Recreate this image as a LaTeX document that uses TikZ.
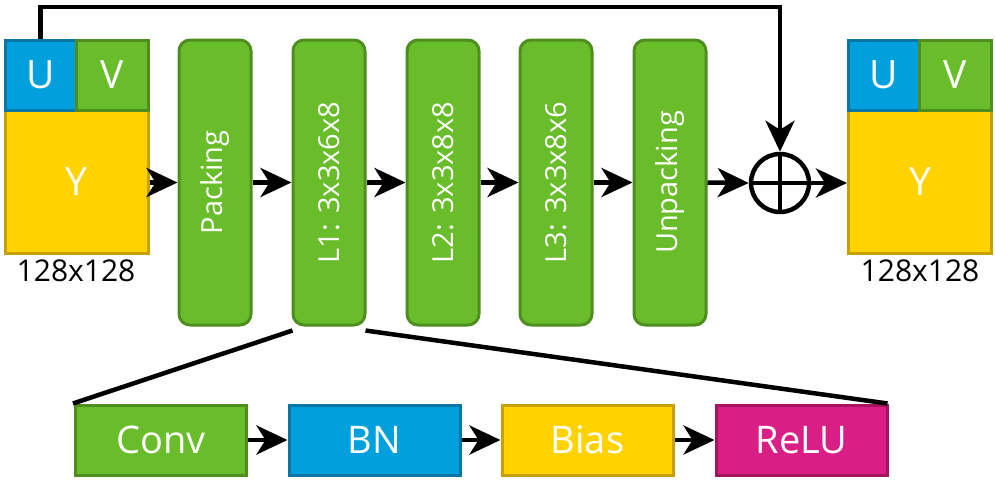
\documentclass[tikz,border=0pt]{standalone}
\usepackage{fontspec}
\setmainfont{Open Sans}
\usetikzlibrary{arrows.meta}
\definecolor{cblue}{HTML}{00A0DC}
\definecolor{cblueb}{HTML}{0A76A6}
\definecolor{cgreen}{HTML}{6ABD2A}
\definecolor{cgreenb}{HTML}{4D8E1F}
\definecolor{cyel}{HTML}{FFD200}
\definecolor{cyelb}{HTML}{C6A000}
\definecolor{cmag}{HTML}{D91F85}
\definecolor{cmagb}{HTML}{A3155F}
\tikzset{
  sq/.style={draw, line width=3pt, inner sep=0pt, text=white, font=\fontsize{39}{42}\selectfont},
  ublk/.style={sq, fill=cblue, draw=cblueb, minimum width=71pt, minimum height=70pt},
  vblk/.style={sq, fill=cgreen, draw=cgreenb, minimum width=72pt, minimum height=70pt},
  yblk/.style={sq, fill=cyel, draw=cyelb, minimum width=143pt, minimum height=143pt},
  tall/.style={draw=cgreenb, fill=cgreen, line width=3pt, rounded corners=11pt, minimum width=72pt, minimum height=285pt, inner sep=0pt},
  vlab/.style={rotate=90, text=white, font=\fontsize{29}{32}\selectfont},
  bot/.style={sq, minimum width=171pt, minimum height=70pt, font=\fontsize{38}{42}\selectfont},
  arr/.style={line width=4.5pt, -{Stealth[length=31pt,width=29pt,inset=9pt]}},
  ln/.style={line width=4.5pt},
  size/.style={font=\fontsize{30}{34}\selectfont, text=black}
}
\begin{document}
\begin{tikzpicture}[x=1pt,y=-1pt]
\useasboundingbox (0,0) rectangle (995,482);
% tall boxes
\node[tall] (pk) at (215,182.5) {};
\node[tall] (l1) at (329,182.5) {};
\node[tall] (l2) at (443,182.5) {};
\node[tall] (l3) at (556,182.5) {};
\node[tall] (up) at (670,182.5) {};
\node[vlab] at (pk.center) {Packing};
\node[vlab] at (l1.center) {L1: 3x3x6x8};
\node[vlab] at (l2.center) {L2: 3x3x8x8};
\node[vlab] at (l3.center) {L3: 3x3x8x6};
\node[vlab] at (up.center) {Unpacking};
% input block
\node[yblk] (ya) at (76.5,181.5) {Y};
\node[ublk] (ua) at (40.5,75) {U};
\node[vblk] (va) at (112,75) {V};
\node[size] (sa) at (76,271) {128x128};
% output block
\node[yblk] (yb) at (920,181.5) {Y};
\node[ublk] (ub) at (883.5,75) {U};
\node[vblk] (vb) at (955,75) {V};
\node[size] (sb) at (920,271) {128x128};
% adder
\node[draw, circle, line width=4.5pt, minimum size=58pt, inner sep=0pt] (plus) at (780,183) {};
\draw[ln] (plus.north) -- (plus.south);
\draw[ln] (plus.west) -- (plus.east);
% bottom row
\node[bot, fill=cgreen, draw=cgreenb] (conv) at (161,440) {Conv};
\node[bot, fill=cblue, draw=cblueb] (bn) at (374.5,440) {BN};
\node[bot, fill=cyel, draw=cyelb] (bias) at (587.5,440) {Bias};
\node[bot, fill=cmag, draw=cmagb] (relu) at (801.5,440) {ReLU};
% zoom lines
\draw[ln] ([xshift=1pt,yshift=-4pt]l1.south west) -- ([xshift=-1pt]conv.north west);
\draw[ln] ([xshift=-1pt,yshift=-4pt]l1.south east) -- ([xshift=-1pt]relu.north east);
% arrows
\draw[arr] (ya.east |- pk.west) -- (pk.west);
\draw[arr] (pk.east) -- (l1.west);
\draw[arr] (l1.east) -- (l2.west);
\draw[arr] (l2.east) -- (l3.west);
\draw[arr] (l3.east) -- (up.west);
\draw[arr] (up.east) -- (plus.west);
\draw[arr] (plus.east) -- (yb.west |- plus.east);
\draw[arr] (ua.north) -- (ua.north |- 0,7) -| (plus.north);
\draw[arr] (conv.east) -- (bn.west);
\draw[arr] (bn.east) -- (bias.west);
\draw[arr] (bias.east) -- (relu.west);
\end{tikzpicture}
\end{document}
